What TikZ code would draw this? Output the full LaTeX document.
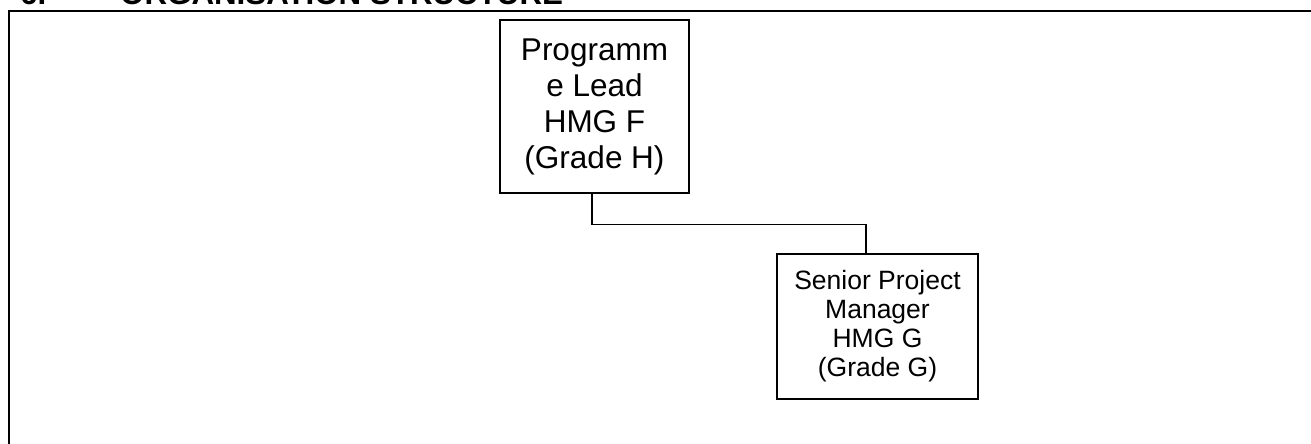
\documentclass[tikz,border=0pt]{standalone}
\usepackage{fontspec}
\setmainfont{Liberation Sans}
\usetikzlibrary{positioning}

\begin{document}
\begin{tikzpicture}[x=1pt,y=-1pt]
  \tikzstyle{post}=[draw,line width=1.2pt,align=center,inner sep=0pt]
  \tikzstyle{heading}=[anchor=base west,inner sep=0pt,font=\fontsize{31.3}{36}\selectfont\bfseries]
  \useasboundingbox (0,0) rectangle (1311,444);
  % heading, cut off at the top
  \node[heading] (num) at (20,5) {6.};
  \node[heading] (title) at (120,5) {ORGANISATION STRUCTURE};
  % frame
  \draw[line width=2pt] (9,470) -- (9,11.5) -- (1330,11.5);
  \node[post,minimum width=189pt,minimum height=173pt,font=\fontsize{31.5}{36}\selectfont] (lead) at (594.5,106.5) {Programm\\e Lead\\HMG F\\(Grade H)};
  \node[post,minimum width=201pt,minimum height=145pt,font=\fontsize{26.5}{29}\selectfont] (spm) at (877.5,326.5) {Senior Project\\Manager\\HMG G\\(Grade G)};
  \draw[line width=1.2pt] ([xshift=-2.5pt]lead.south) -- ++(0,31) -| ([xshift=-11.5pt]spm.north);
\end{tikzpicture}
\end{document}
